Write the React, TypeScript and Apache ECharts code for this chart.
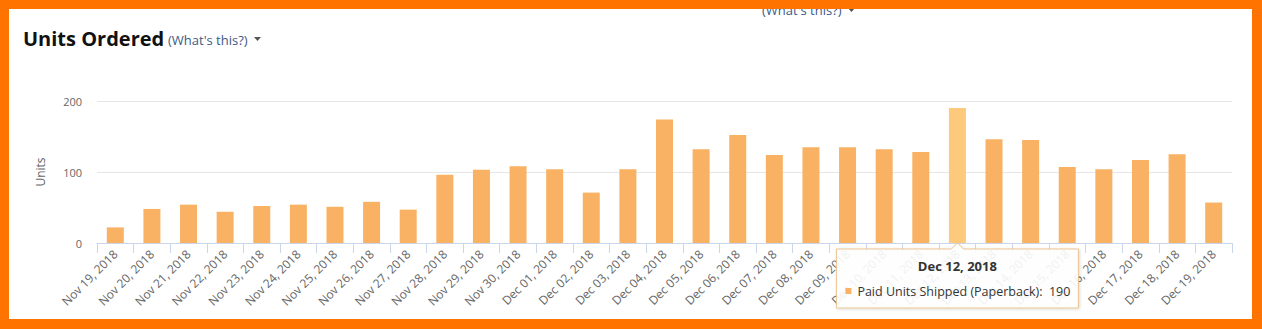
import React, { useEffect, useRef } from "react";
import * as echarts from "echarts";

const dates = [
  "Nov 19, 2018", "Nov 20, 2018", "Nov 21, 2018", "Nov 22, 2018", "Nov 23, 2018",
  "Nov 24, 2018", "Nov 25, 2018", "Nov 26, 2018", "Nov 27, 2018", "Nov 28, 2018",
  "Nov 29, 2018", "Nov 30, 2018", "Dec 01, 2018", "Dec 02, 2018", "Dec 03, 2018",
  "Dec 04, 2018", "Dec 05, 2018", "Dec 06, 2018", "Dec 07, 2018", "Dec 08, 2018",
  "Dec 09, 2018", "Dec 10, 2018", "Dec 11, 2018", "Dec 12, 2018", "Dec 13, 2018",
  "Dec 14, 2018", "Dec 15, 2018", "Dec 16, 2018", "Dec 17, 2018", "Dec 18, 2018",
  "Dec 19, 2018",
];
const units = [
  22, 48, 54, 44, 52, 54, 51, 58, 47, 96, 103, 108,
  104, 71, 104, 174, 132, 152, 124, 135, 135, 132, 128, 190, 146, 145, 107, 104, 117, 125, 57,
];
const yTicks = [0, 100, 200];
const seriesName = "Paid Units Shipped (Paperback)";
const tooltipDate = "Dec 12, 2018";
const tooltipTitle = "Dec 12, 2018";
const chartTitle = "Units Ordered";
const helpText = "(What's this?)";
const yAxisName = "Units";

const BAR = "#F9B264";
const BAR_HI = "#FDC97C";
const ORANGE = "#FF7300";
const FONT = "'Open Sans', 'DejaVu Sans', sans-serif";

export default function App() {
  const ref = useRef<HTMLDivElement>(null);
  useEffect(() => {
    if (!ref.current) return;
    const chart = echarts.init(ref.current, undefined, { renderer: "svg" });
    const hiIdx = dates.indexOf(tooltipDate);
    const option: any = {
      animation: false,
      backgroundColor: "#ffffff",
      textStyle: { fontFamily: FONT },
      grid: { left: 97, right: 30, top: 101, bottom: 86, containLabel: false },
      xAxis: {
        type: "category",
        data: dates,
        axisLine: { lineStyle: { color: "#ccd6eb" } },
        axisTick: { show: true, length: 10, interval: 0, lineStyle: { color: "#ccd6eb" } },
        axisLabel: {
          interval: 0,
          rotate: 45,
          margin: 9,
          color: "#666666",
          fontSize: 12,
          fontFamily: FONT,
        },
      },
      yAxis: {
        type: "value",
        min: yTicks[0],
        max: yTicks[yTicks.length - 1],
        interval: yTicks[1] - yTicks[0],
        name: yAxisName,
        nameLocation: "middle",
        nameGap: 51,
        nameRotate: 90,
        nameTextStyle: { color: "#666666", fontSize: 12, fontFamily: FONT },
        axisLine: { show: false },
        axisTick: { show: false },
        axisLabel: { color: "#666666", fontSize: 11, margin: 15, fontFamily: FONT },
        splitLine: { lineStyle: { color: "#e6e6e6" } },
      },
      series: [
        {
          name: seriesName,
          type: "bar",
          barWidth: 17,
          data: units.map((v, i) => ({
            value: v,
            itemStyle: { color: i === hiIdx ? BAR_HI : BAR },
          })),
        },
      ],
    };
    chart.setOption(option);

    const p = chart.convertToPixel({ xAxisIndex: 0, yAxisIndex: 0 }, [hiIdx, 0]) as number[];
    const cx = p[0];
    const cy = p[1];
    const hw = 121;
    const top = 6;
    const bottom = 65;

    chart.setOption({
      graphic: {
        z: 100,
        zlevel: 0,
        elements: [
          // header
          {
            type: "text",
            x: 23,
            y: 38,
            style: {
              text: chartTitle,
              font: `bold 20px ${FONT}`,
              fill: "#111111",
              verticalAlign: "middle",
            },
          },
          {
            type: "text",
            x: 168,
            y: 40,
            style: {
              text: helpText,
              font: `13px ${FONT}`,
              fill: "#3d5a85",
              verticalAlign: "middle",
            },
          },
          {
            type: "polygon",
            shape: { points: [[254, 37], [261, 37], [257.5, 41]] },
            style: { fill: "#555555" },
          },
          // cut-off duplicate header text at top
          {
            type: "text",
            x: 762,
            y: 10,
            style: {
              text: helpText,
              font: `13px ${FONT}`,
              fill: "#3d5a85",
              verticalAlign: "middle",
            },
          },
          {
            type: "polygon",
            shape: { points: [[848, 8], [855, 8], [851.5, 12]] },
            style: { fill: "#555555" },
          },
          // tooltip
          {
            type: "polygon",
            z: 200,
            x: cx,
            y: cy,
            shape: {
              points: [
                [-hw, top], [-6, top], [0, 0], [6, top], [hw, top],
                [hw, bottom], [-hw, bottom],
              ],
            },
            style: {
              fill: "#ffffff",
              opacity: 0.9,
              stroke: "#E9BE84",
              lineWidth: 1,
              shadowBlur: 3,
              shadowColor: "rgba(0,0,0,0.15)",
              shadowOffsetX: 1,
              shadowOffsetY: 1,
            },
          },
          {
            type: "text",
            z: 201,
            x: cx,
            y: cy + 22.5,
            style: {
              text: tooltipTitle,
              font: `bold 13px ${FONT}`,
              fill: "#333333",
              align: "center",
              verticalAlign: "middle",
            },
          },
          {
            type: "rect",
            z: 201,
            x: cx,
            y: cy,
            shape: { x: -112, y: 45, width: 6, height: 6 },
            style: { fill: BAR },
          },
          {
            type: "text",
            z: 201,
            x: cx - 100,
            y: cy + 48,
            style: {
              text: `${seriesName}:  ${units[hiIdx]}`,
              font: `12.5px ${FONT}`,
              fill: "#333333",
              verticalAlign: "middle",
            },
          },
          // orange frame
          { type: "rect", z: 300, shape: { x: 0, y: 0, width: 1262, height: 9 }, style: { fill: ORANGE } },
          { type: "rect", z: 300, shape: { x: 0, y: 319, width: 1262, height: 10 }, style: { fill: ORANGE } },
          { type: "rect", z: 300, shape: { x: 0, y: 0, width: 9, height: 329 }, style: { fill: ORANGE } },
          { type: "rect", z: 300, shape: { x: 1252, y: 0, width: 10, height: 329 }, style: { fill: ORANGE } },
        ],
      },
    });

    return () => chart.dispose();
  }, []);
  return (
    <div
      ref={ref}
      style={{ position: "fixed", left: 0, top: 0, width: 1262, height: 329 }}
    />
  );
}
